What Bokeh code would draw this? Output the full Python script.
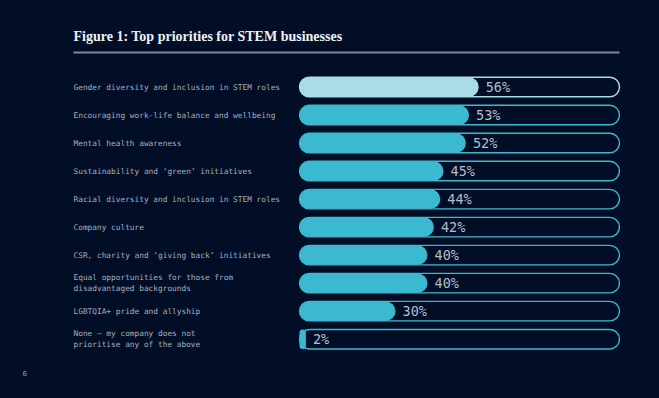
from bokeh.plotting import figure
from bokeh.models import Range1d, Label, ColumnDataSource
from bokeh.embed import file_html
from bokeh.resources import INLINE
from bokeh.core.properties import value

# ---- data ----
categories = [
    "Gender diversity and inclusion in STEM roles",
    "Encouraging work-life balance and wellbeing",
    "Mental health awareness",
    "Sustainability and \u2018green\u2019 initiatives",
    "Racial diversity and inclusion in STEM roles",
    "Company culture",
    "CSR, charity and \u2018giving back\u2019 initiatives",
    "Equal opportunities for those from\ndisadvantaged backgrounds",
    "LGBTQIA+ pride and allyship",
    "None \u2013 my company does not\nprioritise any of the above",
]
values = [56, 53, 52, 45, 44, 42, 40, 40, 30, 2]
title_text = "Figure 1: Top priorities for STEM businesses"
page_number = "6"

# ---- style ----
BG = "#020e26"
HIGHLIGHT = "#a8dde7"
TEAL = "#3bb9d0"
LABEL_COL = "#a3aec0"
VALUE_COL = "#b3bdcc"

W, H = 659, 398
PX_PER_PCT = 3.2
ZERO_PX = 299.0
ROW_PX = 28.02
ROW0_PX = 86.5
LEFT_PX = 73

n = len(values)
rows = list(range(n))
fill_colors = [HIGHLIGHT] + [TEAL] * (n - 1)
value_texts = [f"{v}%" for v in values]

src = ColumnDataSource(dict(
    y=rows, v=values, cat=categories, fc=fill_colors, vt=value_texts,
    full=[100] * n, zero=[0] * n,
))

p = figure(width=W, height=H, output_backend="svg", toolbar_location=None,
           x_range=Range1d(-ZERO_PX / PX_PER_PCT, (W - ZERO_PX) / PX_PER_PCT),
           y_range=Range1d((H - ROW0_PX) / ROW_PX, -ROW0_PX / ROW_PX),
           min_border=0, outline_line_color=None)
p.background_fill_color = BG
p.border_fill_color = BG
p.axis.visible = False
p.grid.visible = False

bar_h = 19.5 / ROW_PX

# filled bars
p.hbar(y="y", left="zero", right="v", height=bar_h, source=src,
       fill_color="fc", line_color=None, border_radius=10)
# outlines
p.hbar(y="y", left="zero", right="full", height=bar_h, source=src,
       fill_alpha=0, line_color="fc", line_width=1.4, border_radius=10)

# value labels
p.text(x="v", y="y", text="vt", source=src, x_offset=7,
       text_baseline="middle", text_align="left",
       text_font=value("DejaVu Sans Mono"), text_font_size="13.5px",
       text_color=VALUE_COL)

# category labels
label_x = (LEFT_PX - ZERO_PX) / PX_PER_PCT
p.text(x=label_x, y="y", text="cat", source=src,
       text_baseline="middle", text_align="left",
       text_font=value("DejaVu Sans Mono"), text_font_size="7.8px",
       text_color=LABEL_COL, text_line_height=1.2)

# title and rule
p.add_layout(Label(x=LEFT_PX, y=H - 36, x_units="screen", y_units="screen",
                   text=title_text, text_font="Liberation Serif",
                   text_font_size="14px", text_font_style="bold",
                   text_color="#eef2f7", text_baseline="alphabetic"))
rule_y = (52 - ROW0_PX) / ROW_PX
p.segment(x0=[label_x], x1=[100], y0=[rule_y], y1=[rule_y],
          line_color="#7d8797", line_width=1.8)

p.add_layout(Label(x=22, y=H - 372, x_units="screen", y_units="screen",
                   text=page_number, text_font="DejaVu Sans",
                   text_font_size="7px", text_color="#8e9bb3",
                   text_baseline="alphabetic"))

html = file_html(p, INLINE, template="{% block preamble %}<style>body{background:#020e26;}</style>{% endblock %}")
open("out.html", "w").write(html)
